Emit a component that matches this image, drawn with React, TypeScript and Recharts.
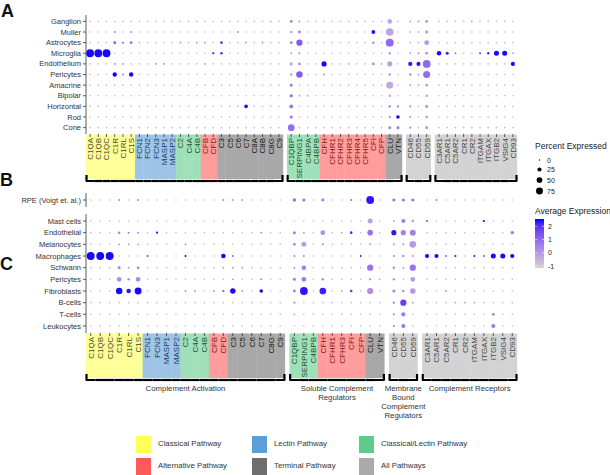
import React from 'react';
import { ScatterChart, Scatter, XAxis, YAxis, ZAxis, Cell } from 'recharts';

const FONT = '"Liberation Sans", Arial, Helvetica, sans-serif';

// ---- categories ----
const CELLS_A = ['Ganglion', 'Muller', 'Astrocytes', 'Microglia', 'Endothelium', 'Pericytes', 'Amacrine', 'Bipolar', 'Horizontal', 'Rod', 'Cone'];
const CELLS_B = ['RPE (Voigt et. al.)'];
const CELLS_C = ['Mast cells', 'Endothelial', 'Melanocytes', 'Macrophages', 'Schwann', 'Pericytes', 'Fibroblasts', 'B-cells', 'T-cells', 'Leukocytes'];

const GENES_A = ['C1QA', 'C1QB', 'C1QC', 'C1R', 'C1RL', 'C1S', 'FCN1', 'FCN2', 'FCN3', 'MASP1', 'MASP2', 'C2', 'C4A', 'C4B', 'CFB', 'CFD', 'C3', 'C5', 'C6', 'C7', 'C8A', 'C8B', 'C8G', 'C9',
  'C1QBP', 'SERPING1', 'C4BPA', 'C4BPB', 'CFH', 'CFHR1', 'CFHR2', 'CFHR3', 'CFHR4', 'CFHR5', 'CFI', 'CFP', 'CLU', 'VTN',
  'CD46', 'CD55', 'CD59',
  'C3AR1', 'C5AR1', 'C5AR2', 'CR1', 'CR2', 'ITGAM', 'ITGAX', 'ITGB2', 'VSIG4', 'CD93'];
const PATH_A = ['cl', 'cl', 'cl', 'cl', 'cl', 'cl', 'le', 'le', 'le', 'le', 'le', 'cll', 'cll', 'cll', 'alt', 'alt', 'ter', 'ter', 'ter', 'ter', 'ter', 'ter', 'ter', 'ter',
  'cll', 'cll', 'cll', 'cll', 'alt', 'alt', 'alt', 'alt', 'alt', 'alt', 'alt', 'alt', 'ter', 'ter',
  'all', 'all', 'all',
  'all', 'all', 'all', 'all', 'all', 'all', 'all', 'all', 'all', 'all'];
const FACETS_A = [24, 14, 3, 10];

const GENES_C = ['C1QA', 'C1QB', 'C1QC', 'C1R', 'C1RL', 'C1S', 'FCN1', 'FCN3', 'MASP1', 'MASP2', 'C2', 'C4A', 'C4B', 'CFB', 'CFD', 'C3', 'C5', 'C6', 'C7', 'C8G', 'C9',
  'C1QBP', 'SERPING1', 'C4BPB', 'CFH', 'CFHR1', 'CFHR3', 'CFI', 'CFP', 'CLU', 'VTN',
  'CD46', 'CD55', 'CD59',
  'C3AR1', 'C5AR1', 'C5AR2', 'CR1', 'CR2', 'ITGAM', 'ITGAX', 'ITGB2', 'VSIG4', 'CD93'];
const PATH_C = ['cl', 'cl', 'cl', 'cl', 'cl', 'cl', 'le', 'le', 'le', 'le', 'cll', 'cll', 'cll', 'alt', 'alt', 'ter', 'ter', 'ter', 'ter', 'ter', 'ter',
  'cll', 'cll', 'cll', 'alt', 'alt', 'alt', 'alt', 'alt', 'ter', 'ter',
  'all', 'all', 'all',
  'all', 'all', 'all', 'all', 'all', 'all', 'all', 'all', 'all', 'all'];
const FACETS_C = [21, 10, 3, 10];

const GROUP_LABELS = [['Complement Activation'], ['Soluble Complement', 'Regulators'], ['Membrane', 'Bound', 'Complement', 'Regulators'], ['Complement Receptors']];

// ---- percent expressed (rows = cells, cols = genes) ----
const PCT_A = [
  [1, 1, 1, 1, 1, 1, 1, 1, 1, 1, 1, 1, 1, 1, 1, 1, 1, 1, 1, 1, 1, 1, 2, 1, 10, 2, 1, 1, 1, 1, 1, 1, 1, 1, 1, 1, 30, 1, 2, 3, 10, 1, 1, 1, 1, 2, 1, 1, 1, 1, 1],
  [1, 1, 1, 3, 1, 3, 1, 1, 1, 1, 1, 1, 1, 1, 1, 1, 1, 1, 3, 1, 1, 1, 1, 1, 7, 10, 1, 1, 1, 1, 1, 1, 1, 1, 20, 1, 90, 1, 2, 2, 15, 1, 1, 1, 1, 1, 1, 1, 1, 1, 1],
  [1, 1, 1, 12, 3, 10, 1, 1, 1, 1, 1, 2, 1, 2, 2, 1, 8, 1, 1, 2, 1, 2, 1, 1, 10, 60, 1, 1, 1, 1, 1, 1, 1, 1, 6, 1, 99, 1, 2, 2, 35, 1, 1, 1, 1, 1, 1, 1, 1, 1, 1],
  [97, 97, 97, 1, 1, 1, 1, 1, 1, 1, 1, 1, 1, 1, 1, 5, 6, 1, 1, 1, 1, 1, 1, 1, 2, 3, 1, 1, 1, 1, 1, 1, 1, 1, 1, 1, 7, 1, 2, 3, 8, 30, 12, 2, 1, 1, 3, 6, 38, 38, 2],
  [1, 1, 1, 2, 2, 1, 1, 1, 2, 2, 1, 1, 1, 1, 2, 1, 1, 1, 1, 1, 1, 1, 1, 1, 14, 8, 1, 1, 40, 1, 1, 2, 1, 1, 8, 2, 38, 1, 25, 25, 95, 1, 1, 1, 1, 1, 1, 1, 1, 1, 25],
  [1, 1, 1, 28, 3, 28, 1, 1, 1, 1, 1, 1, 1, 1, 1, 1, 1, 1, 1, 1, 1, 1, 1, 1, 7, 65, 1, 1, 2, 1, 1, 1, 1, 1, 1, 1, 8, 1, 6, 2, 80, 1, 1, 1, 1, 1, 1, 1, 1, 1, 1],
  [1, 1, 1, 1, 1, 1, 1, 1, 1, 1, 1, 1, 1, 1, 1, 1, 1, 1, 1, 1, 1, 1, 1, 1, 12, 1, 1, 1, 1, 1, 1, 1, 1, 1, 1, 1, 75, 1, 2, 2, 8, 1, 1, 1, 1, 1, 1, 1, 1, 1, 1],
  [1, 1, 1, 1, 1, 1, 1, 1, 1, 1, 1, 1, 1, 1, 1, 1, 1, 1, 1, 1, 1, 1, 1, 1, 14, 2, 2, 1, 1, 1, 1, 1, 1, 1, 1, 1, 6, 1, 1, 1, 6, 1, 1, 1, 1, 1, 1, 1, 1, 1, 1],
  [1, 1, 1, 1, 1, 1, 1, 1, 1, 1, 1, 1, 1, 1, 1, 1, 1, 1, 1, 18, 1, 1, 1, 1, 20, 1, 1, 1, 1, 1, 1, 1, 1, 1, 1, 1, 8, 6, 4, 1, 12, 1, 1, 1, 1, 1, 1, 1, 1, 1, 1],
  [1, 1, 1, 1, 1, 1, 1, 1, 1, 1, 1, 1, 1, 1, 1, 1, 1, 1, 1, 1, 1, 1, 1, 1, 12, 1, 1, 1, 1, 1, 1, 1, 1, 1, 1, 1, 6, 18, 4, 1, 8, 1, 1, 1, 1, 1, 1, 1, 1, 1, 1],
  [1, 1, 1, 1, 1, 1, 1, 1, 1, 1, 1, 1, 1, 1, 1, 1, 1, 1, 1, 1, 1, 1, 1, 1, 70, 1, 1, 1, 1, 1, 1, 1, 1, 1, 1, 1, 12, 12, 4, 1, 12, 1, 1, 1, 1, 1, 1, 1, 1, 1, 1],
];

// ---- average expression (scaled) ----
const EXP_A = [
  [-.5, -.5, -.5, -.5, -.5, -.5, -.5, -.5, -.5, -.5, -.5, -.5, -.5, -.5, -.5, -.5, -.5, -.5, -.5, -.5, -.5, -.5, -.5, -.5, .5, .3, -.5, -.5, -.5, -.5, -.5, -.5, -.5, -.5, -.5, -.5, -.2, -.5, 0, .3, .3, -.5, -.5, -.5, -.5, 0, -.5, -.5, -.5, -.5, -.5],
  [-.5, -.5, -.5, .5, -.5, .5, -.5, -.5, -.5, -.5, -.5, -.5, -.5, -.5, -.5, -.5, -.5, -.5, .3, -.5, -.5, -.5, -.5, -.5, 0, .5, -.5, -.5, -.5, -.5, -.5, -.5, -.5, -.5, 2.5, -.5, -.2, -.5, -.3, -.3, -.2, -.5, -.5, -.5, -.5, -.5, -.5, -.5, -.5, -.5, -.5],
  [-.5, -.5, -.5, .8, 1.5, .8, -.5, -.5, -.5, -.5, -.5, .3, -.5, .3, .3, -.5, 2, -.5, -.5, .3, -.5, .3, -.5, -.5, .5, 1.3, -.5, -.5, -.5, -.5, -.5, -.5, -.5, -.5, .6, -.5, 1, -.5, -.3, -.3, 0, -.5, -.5, -.5, -.5, -.5, -.5, -.5, -.5, -.5, -.5],
  [2.5, 2.5, 2.5, -.5, -.5, -.5, -.5, -.5, -.5, -.5, -.5, -.5, -.5, -.5, -.5, 2.4, 2.3, -.5, -.5, -.5, -.5, -.5, -.5, -.5, 0, .3, -.5, -.5, -.5, -.5, -.5, -.5, -.5, -.5, -.5, -.5, 0, -.5, 0, .3, .3, 2.5, 2.3, 1, -.5, -.5, 2, 2.3, 2.5, 2.5, 0],
  [-.5, -.5, -.5, .5, .5, -.5, -.5, -.5, .5, .5, -.5, -.5, -.5, -.5, .3, -.5, -.5, -.5, -.5, -.5, -.5, -.5, -.5, -.5, -.2, .3, -.5, -.5, 2.5, -.5, -.5, 0, -.5, -.5, .5, 0, -.2, -.5, 2.4, 2.4, 1, -.5, -.5, -.5, -.5, -.5, -.5, -.5, -.5, -.5, 2.5],
  [-.5, -.5, -.5, 2.5, .5, 2.5, -.5, -.5, -.5, -.5, -.5, -.5, -.5, -.5, -.5, -.5, -.5, -.5, -.5, -.5, -.5, -.5, -.5, -.5, 0, 1.3, -.5, -.5, .5, -.5, -.5, -.5, -.5, -.5, -.5, -.5, 0, -.5, .3, 0, .9, -.5, -.5, -.5, -.5, -.5, -.5, -.5, -.5, -.5, -.5],
  [-.5, -.5, -.5, -.5, -.5, -.5, -.5, -.5, -.5, -.5, -.5, -.5, -.5, -.5, -.5, -.5, -.5, -.5, -.5, -.5, -.5, -.5, -.5, -.5, .5, -.5, -.5, -.5, -.5, -.5, -.5, -.5, -.5, -.5, -.5, -.5, -.3, -.5, 0, 0, 0, -.5, -.5, -.5, -.5, -.5, -.5, -.5, -.5, -.5, -.5],
  [-.5, -.5, -.5, -.5, -.5, -.5, -.5, -.5, -.5, -.5, -.5, -.5, -.5, -.5, -.5, -.5, -.5, -.5, -.5, -.5, -.5, -.5, -.5, -.5, .9, 0, 0, -.5, -.5, -.5, -.5, -.5, -.5, -.5, -.5, -.5, 0, -.5, -.5, -.5, 0, -.5, -.5, -.5, -.5, -.5, -.5, -.5, -.5, -.5, -.5],
  [-.5, -.5, -.5, -.5, -.5, -.5, -.5, -.5, -.5, -.5, -.5, -.5, -.5, -.5, -.5, -.5, -.5, -.5, -.5, 2.5, -.5, -.5, -.5, -.5, .8, -.5, -.5, -.5, -.5, -.5, -.5, -.5, -.5, -.5, -.5, -.5, .2, .3, .3, -.5, 0, -.5, -.5, -.5, -.5, -.5, -.5, -.5, -.5, -.5, -.5],
  [-.5, -.5, -.5, -.5, -.5, -.5, -.5, -.5, -.5, -.5, -.5, -.5, -.5, -.5, -.5, -.5, -.5, -.5, -.5, -.5, -.5, -.5, -.5, -.5, .8, -.5, -.5, -.5, -.5, -.5, -.5, -.5, -.5, -.5, -.5, -.5, 0, 2.5, .3, -.5, 0, -.5, -.5, -.5, -.5, -.5, -.5, -.5, -.5, -.5, -.5],
  [-.5, -.5, -.5, -.5, -.5, -.5, -.5, -.5, -.5, -.5, -.5, -.5, -.5, -.5, -.5, -.5, -.5, -.5, -.5, -.5, -.5, -.5, -.5, -.5, .9, -.5, -.5, -.5, -.5, -.5, -.5, -.5, -.5, -.5, -.5, -.5, .2, .5, .3, -.5, 0, -.5, -.5, -.5, -.5, -.5, -.5, -.5, -.5, -.5, -.5],
];

const PCT_B = [
  [1, 1, 1, 3, 1, 3, 1, 1, 1, 1, 1, 1, 1, 1, 3, 2, 2, 1, 1, 1, 1, 16, 12, 1, 10, 1, 1, 5, 1, 95, 1, 12, 12, 12, 1, 2, 1, 1, 1, 1, 1, 1, 1, 1],
];
const EXP_B = [
  [-.5, -.5, -.5, .5, -.5, .5, -.5, -.5, -.5, -.5, -.5, -.5, -.5, -.5, .5, .3, .3, -.5, -.5, -.5, -.5, .8, .8, -.5, .8, -.5, -.5, .8, -.5, 2.4, -.5, .8, .8, .8, -.5, .5, -.5, -.5, -.5, -.5, -.5, -.5, -.5, -.5],
];

const PCT_C = [
  [1, 1, 1, 1, 1, 1, 1, 1, 1, 1, 1, 1, 1, 1, 1, 1, 1, 1, 1, 1, 1, 1, 1, 1, 1, 1, 1, 1, 1, 38, 1, 2, 25, 8, 2, 1, 1, 1, 1, 1, 5, 1, 1, 1],
  [1, 1, 1, 7, 3, 3, 1, 4, 1, 1, 1, 1, 1, 1, 1, 1, 1, 1, 2, 1, 1, 12, 3, 1, 35, 1, 2, 8, 1, 48, 1, 40, 40, 55, 1, 1, 1, 1, 1, 1, 1, 1, 1, 15],
  [1, 1, 1, 2, 2, 2, 1, 1, 1, 1, 2, 1, 1, 1, 1, 1, 1, 1, 1, 1, 1, 8, 38, 1, 4, 1, 1, 1, 1, 3, 1, 3, 4, 70, 1, 1, 1, 1, 1, 1, 1, 1, 1, 1],
  [97, 97, 97, 1, 1, 1, 2, 1, 1, 1, 4, 1, 1, 1, 30, 3, 1, 1, 1, 1, 1, 3, 4, 1, 1, 1, 1, 1, 2, 1, 1, 4, 8, 4, 25, 25, 2, 4, 1, 3, 2, 38, 38, 25],
  [1, 1, 1, 10, 2, 7, 1, 1, 1, 1, 1, 1, 1, 1, 2, 2, 2, 1, 1, 1, 1, 3, 30, 1, 1, 1, 1, 1, 1, 60, 1, 6, 3, 60, 1, 1, 1, 1, 1, 1, 1, 1, 1, 1],
  [1, 1, 1, 35, 6, 35, 1, 1, 1, 1, 1, 1, 1, 1, 1, 2, 1, 1, 3, 1, 1, 12, 35, 1, 6, 1, 1, 1, 1, 5, 2, 6, 1, 35, 1, 1, 1, 1, 1, 1, 1, 1, 1, 1],
  [1, 1, 1, 65, 30, 75, 1, 1, 1, 1, 2, 2, 1, 2, 5, 45, 2, 1, 18, 1, 1, 10, 95, 1, 70, 1, 2, 8, 1, 60, 1, 14, 7, 48, 1, 1, 2, 1, 1, 1, 1, 1, 1, 1],
  [1, 1, 1, 1, 1, 1, 1, 1, 1, 1, 1, 1, 1, 1, 1, 1, 1, 1, 1, 1, 1, 4, 1, 1, 1, 1, 1, 1, 1, 1, 1, 6, 60, 2, 1, 1, 1, 2, 2, 2, 1, 1, 1, 1],
  [1, 1, 1, 1, 1, 1, 1, 1, 1, 1, 1, 1, 1, 1, 1, 1, 1, 1, 1, 1, 1, 2, 1, 1, 1, 1, 1, 1, 1, 1, 1, 5, 25, 1, 1, 1, 1, 1, 1, 1, 1, 8, 1, 1],
  [1, 1, 1, 1, 1, 1, 1, 1, 1, 1, 1, 1, 1, 1, 1, 1, 1, 1, 1, 1, 1, 1, 1, 1, 1, 1, 1, 1, 1, 1, 1, 5, 25, 1, 1, 1, 1, 1, 1, 1, 1, 25, 1, 1],
];
const EXP_C = [
  [-.5, -.5, -.5, -.5, -.5, -.5, -.5, -.5, -.5, -.5, -.5, -.5, -.5, -.5, -.5, -.5, -.5, -.5, -.5, -.5, -.5, -.5, -.5, -.5, -.5, -.5, -.5, -.5, -.5, -.2, -.5, 0, .5, 0, 2, -.5, -.5, -.5, -.5, -.5, 2.5, -.5, -.5, -.5],
  [-.5, -.5, -.5, .5, .8, .5, -.5, 2.5, -.5, -.5, -.5, -.5, -.5, -.5, -.5, -.5, -.5, -.5, .5, -.5, -.5, .6, 0, -.5, .2, -.5, 0, 2.2, -.5, .8, -.5, 2.4, .5, .5, -.5, -.5, -.5, -.5, -.5, -.5, -.5, -.5, -.5, .7],
  [-.5, -.5, -.5, .3, .3, .3, -.5, -.5, -.5, -.5, .5, -.5, -.5, -.5, -.5, -.5, -.5, -.5, -.5, -.5, -.5, .6, -.1, -.5, .3, -.5, -.5, -.5, -.5, 0, -.5, 0, 0, 0, -.5, -.5, -.5, -.5, -.5, -.5, -.5, -.5, -.5, -.5],
  [2.5, 2.5, 2.5, -.5, -.5, -.5, 2, -.5, -.5, -.5, 2.5, -.5, -.5, -.5, 2.5, 1, -.5, -.5, -.5, -.5, -.5, .5, .5, -.5, -.5, -.5, -.5, -.5, 2.5, -.5, -.5, .5, 0, 0, 2.5, 2.5, 1.5, 2.5, -.5, 2.5, 1.5, 2.5, 2.5, 2.5],
  [-.5, -.5, -.5, .6, .5, .7, -.5, -.5, -.5, -.5, -.5, -.5, -.5, -.5, .3, .3, .3, -.5, -.5, -.5, -.5, .3, .6, -.5, -.5, -.5, -.5, -.5, -.5, .8, -.5, .5, 0, .8, -.5, -.5, -.5, -.5, -.5, -.5, -.5, -.5, -.5, -.5],
  [-.5, -.5, -.5, .3, .6, .3, -.5, -.5, -.5, -.5, -.5, -.5, -.5, -.5, -.5, .3, -.5, -.5, .5, -.5, -.5, .6, .6, -.5, .6, -.5, -.5, -.5, -.5, .3, 0, .3, -.5, 0, -.5, -.5, -.5, -.5, -.5, -.5, -.5, -.5, -.5, -.5],
  [-.5, -.5, -.5, 2.5, 2.4, 2.5, -.5, -.5, -.5, -.5, .3, .3, -.5, .3, 1.5, 2.5, .3, -.5, 2.5, -.5, -.5, .6, 2.4, -.5, 2.3, -.5, 0, 2, -.5, .2, -.5, .3, .3, 0, -.5, -.5, .3, -.5, -.5, -.5, -.5, -.5, -.5, -.5],
  [-.5, -.5, -.5, -.5, -.5, -.5, -.5, -.5, -.5, -.5, -.5, -.5, -.5, -.5, -.5, -.5, -.5, -.5, -.5, -.5, -.5, .3, -.5, -.5, -.5, -.5, -.5, -.5, -.5, -.5, -.5, .3, 1.8, 0, -.5, -.5, -.5, 0, 0, 0, -.5, -.5, -.5, -.5],
  [-.5, -.5, -.5, -.5, -.5, -.5, -.5, -.5, -.5, -.5, -.5, -.5, -.5, -.5, -.5, -.5, -.5, -.5, -.5, -.5, -.5, 0, -.5, -.5, -.5, -.5, -.5, -.5, -.5, -.5, -.5, .3, .7, -.5, -.5, -.5, -.5, -.5, -.5, -.5, -.5, .6, -.5, -.5],
  [-.5, -.5, -.5, -.5, -.5, -.5, -.5, -.5, -.5, -.5, -.5, -.5, -.5, -.5, -.5, -.5, -.5, -.5, -.5, -.5, -.5, -.5, -.5, -.5, -.5, -.5, -.5, -.5, -.5, -.5, -.5, .3, .7, -.5, -.5, -.5, -.5, -.5, -.5, -.5, -.5, .6, -.5, -.5],
];

const SIZE_BREAKS = [0, 25, 50, 75];
const COLOR_BREAKS = [2, 1, 0, -1];

const LEGEND_ITEMS = [
  { label: 'Classical Pathway', path: 'cl' },
  { label: 'Lectin Pathway', path: 'le' },
  { label: 'Classical/Lectin Pathway', path: 'cll' },
  { label: 'Alternative Pathway', path: 'alt' },
  { label: 'Terminal Pathway', path: 'ter' },
  { label: 'All Pathways', path: 'all' },
];

// ---- styles ----
const BOX_FILL: Record<string, string> = { cl: '#ffff99', le: '#9dc4e6', cll: '#9fe0b9', alt: '#ff9c9c', ter: '#a8a8a8', all: '#d3d3d3' };
const BOX_TEXT: Record<string, string> = { cl: '#4a4a28', le: '#1a3c66', cll: '#185432', alt: '#861414', ter: '#161616', all: '#444' };
const SWATCH: Record<string, string> = { cl: '#ffff55', le: '#5b9fd6', cll: '#5ccc88', alt: '#ff5a5a', ter: '#6e6e6e', all: '#aaaaaa' };

const GAP = 0.5;
const PLOT_LEFT = 86;
const PLOT_RIGHT = 517;
const CHART_W = 525;
const Y_AXIS_W = 86;
const SIZE_RANGE: [number, number] = [1.5, 50];
const EMIN = -1.15;
const EMAX = 2.55;

// colour scale lightgrey -> blue, interpolated in Lab like ggplot
const lin = (c: number) => { c /= 255; return c <= 0.04045 ? c / 12.92 : Math.pow((c + 0.055) / 1.055, 2.4); };
const fLab = (t: number) => (t > 0.008856 ? Math.cbrt(t) : 7.787 * t + 16 / 116);
function toLab(rgb: number[]) {
  const R = lin(rgb[0]), G = lin(rgb[1]), B = lin(rgb[2]);
  const X = (0.4124564 * R + 0.3575761 * G + 0.1804375 * B) / 0.95047;
  const Y = 0.2126729 * R + 0.7151522 * G + 0.072175 * B;
  const Z = (0.0193339 * R + 0.119192 * G + 0.9503041 * B) / 1.08883;
  const fx = fLab(X), fy = fLab(Y), fz = fLab(Z);
  return [116 * fy - 16, 500 * (fx - fy), 200 * (fy - fz)];
}
function fromLab(lab: number[]) {
  const fy = (lab[0] + 16) / 116, fx = fy + lab[1] / 500, fz = fy - lab[2] / 200;
  const inv = (t: number) => (t * t * t > 0.008856 ? t * t * t : (t - 16 / 116) / 7.787);
  const X = 0.95047 * inv(fx), Y = inv(fy), Z = 1.08883 * inv(fz);
  const r = 3.2404542 * X - 1.5371385 * Y - 0.4985314 * Z;
  const g = -0.969266 * X + 1.8760108 * Y + 0.041556 * Z;
  const b = 0.0556434 * X - 0.2040259 * Y + 1.0572252 * Z;
  const gam = (c: number) => {
    c = Math.min(1, Math.max(0, c));
    return Math.round(255 * (c <= 0.0031308 ? 12.92 * c : 1.055 * Math.pow(c, 1 / 2.4) - 0.055));
  };
  return `rgb(${gam(r)},${gam(g)},${gam(b)})`;
}
const LOW = toLab([211, 211, 211]);
const HIGH = toLab([0, 0, 255]);
function expColor(v: number) {
  const t = Math.min(1, Math.max(0, (v - EMIN) / (EMAX - EMIN)));
  return fromLab([0, 1, 2].map((k) => LOW[k] + (HIGH[k] - LOW[k]) * t));
}
const dotRadius = (p: number) => Math.sqrt((SIZE_RANGE[0] + (SIZE_RANGE[1] - SIZE_RANGE[0]) * p / 100) / Math.PI);

function columnPositions(facets: number[]) {
  const out: number[] = [];
  let off = 0;
  facets.forEach((n) => {
    for (let i = 0; i < n; i++) out.push(off + i + 0.5);
    off += n + GAP;
  });
  return out;
}
const domainLength = (facets: number[]) => facets.reduce((a, b) => a + b, 0) + GAP * (facets.length - 1);

function buildPoints(pct: number[][], exp: number[][], facets: number[]) {
  const pos = columnPositions(facets);
  const pts: { x: number; y: number; pct: number; exp: number }[] = [];
  pct.forEach((row, r) => row.forEach((p, c) => pts.push({ x: pos[c], y: r, pct: p, exp: exp[r][c] })));
  return pts;
}

function makeGeneTick(genes: string[], paths: string[], facets: number[], groups: boolean) {
  const pos = columnPositions(facets);
  const cw = (PLOT_RIGHT - PLOT_LEFT) / domainLength(facets);
  const facetOf: number[] = [], first: boolean[] = [], last: boolean[] = [];
  facets.forEach((n, f) => { for (let i = 0; i < n; i++) { facetOf.push(f); first.push(i === 0); last.push(i === n - 1); } });
  return (props: any) => {
    const { x, y, payload } = props;
    const i = pos.findIndex((p) => Math.abs(p - payload.value) < 1e-6);
    if (i < 0) return <g />;
    const y0 = y + 0.5;
    const L = x - cw / 2, R = x + cw / 2;
    const yb = y0 + 46.5;
    let d = `M ${L} ${yb} L ${R} ${yb}`;
    if (first[i]) d = `M ${L + 0.5} ${yb - 6} L ${L + 0.5} ${yb} L ${R} ${yb}`;
    if (last[i]) d = `M ${L} ${yb} L ${R - 0.5} ${yb} L ${R - 0.5} ${yb - 6}`;
    const f = facetOf[i];
    const cx = L + facets[f] * cw / 2;
    return (
      <g>
        <rect x={L - 0.2} y={y0} width={cw + 0.4} height={44.5} fill={BOX_FILL[paths[i]]} />
        <line x1={x} x2={x} y1={y0 - 0.5} y2={y0 + 2.5} stroke="#333" strokeWidth={0.8} />
        <text x={x + 2.9} y={y0 + 3.5} transform={`rotate(-90 ${x + 2.9} ${y0 + 3.5})`} textAnchor="end"
          fontSize={8} fontFamily={FONT} fill={BOX_TEXT[paths[i]]}>{genes[i]}</text>
        <path d={d} fill="none" stroke="#000" strokeWidth={2.2} strokeLinejoin="round" />
        {groups && first[i] && GROUP_LABELS[f].map((line, k) => (
          <text key={k} x={cx} y={y0 + 57 + k * 9} textAnchor="middle" fontSize={7.8} fontFamily={FONT} fill="#333">{line}</text>
        ))}
      </g>
    );
  };
}

function makeCellTick(cells: string[]) {
  return (props: any) => {
    const { x, y, payload } = props;
    return (
      <text x={x} y={y + 2.6} textAnchor="end" fontSize={7.5} fontFamily={FONT} fill="#333">
        {cells[Math.round(payload.value)]}
      </text>
    );
  };
}

type PanelProps = {
  cells: string[]; pct: number[][]; exp: number[][]; genes: string[]; paths: string[]; facets: number[];
  top: number; height: number; marginTop: number; marginBottom: number; axisHeight: number; showAxis: boolean; groups: boolean;
};

function DotPanel(p: PanelProps) {
  const pts = buildPoints(p.pct, p.exp, p.facets);
  const len = domainLength(p.facets);
  const rows = p.cells.map((_, i) => i);
  return (
    <div style={{ position: 'absolute', left: 0, top: p.top }}>
      <ScatterChart width={CHART_W} height={p.height} margin={{ top: p.marginTop, right: CHART_W - PLOT_RIGHT, bottom: p.marginBottom, left: 0 }}>
        <XAxis type="number" dataKey="x" domain={[0, len]} ticks={columnPositions(p.facets)} interval={0} hide={!p.showAxis}
          height={p.axisHeight} tickLine={false} axisLine={false} tickSize={0} tickMargin={0}
          tick={makeGeneTick(p.genes, p.paths, p.facets, p.groups)} />
        <YAxis type="number" dataKey="y" domain={[-0.6, p.cells.length - 0.4]} reversed ticks={rows} interval={0}
          width={Y_AXIS_W} tickSize={3} tickMargin={2}
          axisLine={{ stroke: '#333', strokeWidth: 0.8 }} tickLine={{ stroke: '#333', strokeWidth: 0.8 }}
          tick={makeCellTick(p.cells)} />
        <ZAxis type="number" dataKey="pct" domain={[0, 100]} range={SIZE_RANGE} />
        <Scatter data={pts} isAnimationActive={false}>
          {pts.map((d, i) => <Cell key={i} fill={expColor(d.exp)} />)}
        </Scatter>
      </ScatterChart>
    </div>
  );
}

function Overlay() {
  const stops = Array.from({ length: 11 }, (_, k) => k / 10);
  const barTop = 219, barH = 49;
  const yOf = (v: number) => barTop + (EMAX - v) / (EMAX - EMIN) * barH;
  const sizeY = [160, 169.5, 180, 191];
  const legX = [136, 252, 359];
  const legY = [436, 458];
  return (
    <svg width={610} height={475} style={{ position: 'absolute', left: 0, top: 0 }} fontFamily={FONT}>
      <defs>
        <linearGradient id="expbar" x1="0" y1="0" x2="0" y2="1">
          {stops.map((s) => <stop key={s} offset={s} stopColor={expColor(EMAX - s * (EMAX - EMIN))} />)}
        </linearGradient>
      </defs>
      <text x={1} y={17} fontSize={18} fontWeight="bold" fill="#111">A</text>
      <text x={0} y={186} fontSize={18} fontWeight="bold" fill="#111">B</text>
      <text x={0} y={270} fontSize={18} fontWeight="bold" fill="#111">C</text>

      <text x={535} y={149} fontSize={8.5} fill="#222">Percent Expressed</text>
      {SIZE_BREAKS.map((b, i) => (
        <g key={b}>
          <circle cx={539.5} cy={sizeY[i]} r={dotRadius(b)} fill="#000" />
          <text x={547} y={sizeY[i] + 2.5} fontSize={7} fill="#222">{b}</text>
        </g>
      ))}
      <text x={535} y={214} fontSize={8.5} fill="#222">Average Expression</text>
      <rect x={535} y={barTop} width={9} height={barH} fill="url(#expbar)" />
      {COLOR_BREAKS.map((b) => (
        <g key={b}>
          <line x1={535} x2={537} y1={yOf(b)} y2={yOf(b)} stroke="#fff" strokeWidth={0.6} />
          <line x1={542} x2={544} y1={yOf(b)} y2={yOf(b)} stroke="#fff" strokeWidth={0.6} />
          <text x={548} y={yOf(b) + 2.5} fontSize={7} fill="#222">{b}</text>
        </g>
      ))}

      {LEGEND_ITEMS.map((it, i) => {
        const cx = legX[i % 3], cy = legY[Math.floor(i / 3)];
        return (
          <g key={it.label}>
            <rect x={cx} y={cy} width={15} height={17} fill={SWATCH[it.path]} />
            <text x={cx + 22} y={cy + 10} fontSize={7.8} fill="#333">{it.label}</text>
          </g>
        );
      })}
    </svg>
  );
}

export default function App() {
  return (
    <div style={{ position: 'absolute', left: 0, top: 0, width: 610, height: 475, background: '#fff', overflow: 'hidden', fontFamily: FONT }}>
      <Overlay />
      <DotPanel cells={CELLS_A} pct={PCT_A} exp={EXP_A} genes={GENES_A} paths={PATH_A} facets={FACETS_A}
        top={0} height={190} marginTop={15} marginBottom={0} axisHeight={56} showAxis groups={false} />
      <DotPanel cells={CELLS_B} pct={PCT_B} exp={EXP_B} genes={GENES_C} paths={PATH_C} facets={FACETS_C}
        top={186} height={30} marginTop={7} marginBottom={9} axisHeight={0} showAxis={false} groups={false} />
      <DotPanel cells={CELLS_C} pct={PCT_C} exp={EXP_C} genes={GENES_C} paths={PATH_C} facets={FACETS_C}
        top={200} height={225} marginTop={14} marginBottom={0} axisHeight={92} showAxis groups />
    </div>
  );
}
